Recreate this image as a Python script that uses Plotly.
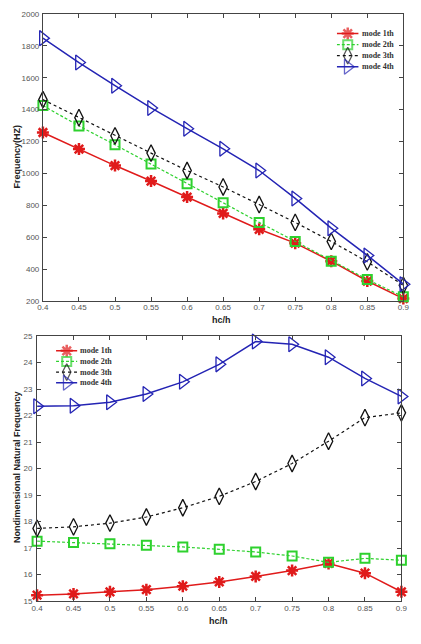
import plotly.graph_objects as go

hc_h = [0.4, 0.45, 0.5, 0.55, 0.6, 0.65, 0.7, 0.75, 0.8, 0.85, 0.9]
x_ticks = [0.4, 0.45, 0.5, 0.55, 0.6, 0.65, 0.7, 0.75, 0.8, 0.85, 0.9]
x_tick_labels = ["0.4", "0.45", "0.5", "0.55", "0.6", "0.65", "0.7", "0.75", "0.8", "0.85", "0.9"]

# Top chart: Frequency (HZ)
freq_mode1 = [1257, 1153, 1050, 953, 853, 750, 651, 564, 451, 327, 217]
freq_mode2 = [1426, 1298, 1180, 1060, 936, 817, 694, 575, 451, 337, 228]
freq_mode3 = [1463, 1350, 1236, 1128, 1019, 916, 806, 694, 575, 447, 300]
freq_mode4 = [1848, 1695, 1550, 1411, 1281, 1155, 1019, 844, 658, 487, 307]

# Bottom chart: Nondimensional natural frequency
nd_mode1 = [15.22, 15.27, 15.35, 15.43, 15.56, 15.72, 15.93, 16.15, 16.42, 16.05, 15.35]
nd_mode2 = [17.26, 17.21, 17.16, 17.10, 17.04, 16.95, 16.85, 16.70, 16.46, 16.61, 16.54]
nd_mode3 = [17.74, 17.80, 17.94, 18.17, 18.52, 18.95, 19.51, 20.19, 21.03, 21.92, 22.10]
nd_mode4 = [22.35, 22.37, 22.50, 22.81, 23.27, 23.93, 24.79, 24.69, 24.20, 23.40, 22.72]

names = ["mode 1th", "mode 2th", "mode 3th", "mode 4th"]
colors = ["#e01b1b", "#2ed12e", "#111111", "#2424b4"]
dashes = ["solid", "3px,2px", "dot", "solid"]
widths = [1.5, 1.2, 1.2, 1.5]
symbols = ["asterisk-open", "square-open", "diamond-tall-open", "triangle-right-open"]
sizes = [10, 9, 12, 13]
mwidths = [2.5, 2, 1.3, 1.3]

W, H = 421, 644


def px_x(p):
    return p / W


def px_y(p):
    return 1 - p / H


fig = go.Figure()

top_series = [freq_mode1, freq_mode2, freq_mode3, freq_mode4]
bot_series = [nd_mode1, nd_mode2, nd_mode3, nd_mode4]


def style(i):
    return dict(
        line=dict(color=colors[i], dash=dashes[i], width=widths[i]),
        marker=dict(symbol=symbols[i], size=sizes[i], color=colors[i],
                    line=dict(color=colors[i], width=mwidths[i])),
    )


for i in range(4):
    fig.add_trace(go.Scatter(x=hc_h, y=top_series[i], name=names[i], mode="lines+markers",
                             xaxis="x", yaxis="y", showlegend=False, cliponaxis=False, **style(i)))
for i in range(4):
    fig.add_trace(go.Scatter(x=hc_h, y=bot_series[i], name=names[i], mode="lines+markers",
                             xaxis="x2", yaxis="y2", showlegend=False, cliponaxis=False, **style(i)))

# Legend glyphs drawn on small helper axes (x3/y3 top, x4/y4 bottom)
for ax_x, ax_y in (("x3", "y3"), ("x4", "y4")):
    for i in range(4):
        st = style(i)
        st["marker"]["size"] = [0, sizes[i], 0]
        fig.add_trace(go.Scatter(x=[0, 0.5, 1], y=[i, i, i], mode="lines+markers",
                                 xaxis=ax_x, yaxis=ax_y, showlegend=False,
                                 cliponaxis=False, hoverinfo="skip", **st))

tickfont = dict(family="Liberation Sans, Arial", size=8, color="#555555")
axis_common = dict(showgrid=False, zeroline=False, showline=True, linecolor="#444444",
                   linewidth=1, mirror="ticks", ticks="inside", ticklen=4,
                   tickcolor="#444444", tickfont=tickfont)
hidden = dict(visible=False, showgrid=False, zeroline=False, fixedrange=True)

row_gap_top = 11.2
row_gap_bot = 10.8

fig.update_layout(
    width=W, height=H, margin=dict(l=0, r=0, t=0, b=0),
    paper_bgcolor="white", plot_bgcolor="white", showlegend=False,
    xaxis=dict(domain=[px_x(38), px_x(409)], range=[0.4, 0.9], anchor="y",
               tickvals=x_ticks, ticktext=x_tick_labels, ticklabelstandoff=-2, **axis_common),
    yaxis=dict(domain=[px_y(301.5), px_y(10)], range=[200, 2000], anchor="x",
               tickvals=list(range(200, 2001, 200)), ticklabelstandoff=1, **axis_common),
    xaxis2=dict(domain=[px_x(32), px_x(407)], range=[0.4, 0.9], anchor="y2",
                tickvals=x_ticks, ticktext=x_tick_labels, ticklabelstandoff=-1, **axis_common),
    yaxis2=dict(domain=[px_y(605.5), px_y(336.7)], range=[15, 25], anchor="x2",
                tickvals=list(range(15, 26)), ticklabelstandoff=2, **axis_common),
    xaxis3=dict(domain=[px_x(340.5), px_x(363)], range=[0, 1], anchor="y3", **hidden),
    yaxis3=dict(domain=[px_y(30 + 3.5 * row_gap_top), px_y(30 - 0.5 * row_gap_top)],
                range=[3.5, -0.5], anchor="x3", **hidden),
    xaxis4=dict(domain=[px_x(51.5), px_x(73.5)], range=[0, 1], anchor="y4", **hidden),
    yaxis4=dict(domain=[px_y(351.7 + 3.5 * row_gap_bot), px_y(351.7 - 0.5 * row_gap_bot)],
                range=[3.5, -0.5], anchor="x4", **hidden),
)

legend_font = dict(family="Liberation Serif", size=8, color="#333333", weight="bold")
for ax_x, ax_y in (("x3", "y3"), ("x4", "y4")):
    for i in range(4):
        fig.add_annotation(text=names[i], x=1, y=i, xref=ax_x, yref=ax_y, xanchor="left",
                           yanchor="middle", xshift=1, showarrow=False, font=legend_font)

title_font = dict(family="Liberation Sans, Arial", size=9, color="#222222", weight="bold")
ann = dict(xref="paper", yref="paper", showarrow=False, font=title_font,
           xanchor="center", yanchor="middle")
fig.add_annotation(text="Frequency(HZ)", x=px_x(11), y=px_y(155), textangle=-90, **ann)
fig.add_annotation(text="hc/h", x=px_x(222), y=px_y(320), **ann)
fig.add_annotation(text="Nondimensional Natural Frequency", x=px_x(12), y=px_y(470),
                   textangle=-90, **ann)
fig.add_annotation(text="hc/h", x=px_x(219), y=px_y(626), **ann)

fig.write_html("out.html")
